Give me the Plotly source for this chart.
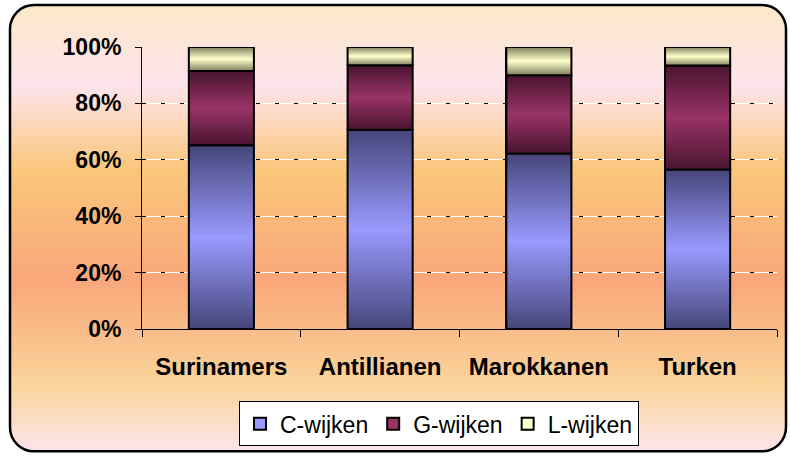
import base64
import plotly.graph_objects as go

categories = ["Surinamers", "Antillianen", "Marokkanen", "Turken"]
series_names = ["C-wijken", "G-wijken", "L-wijken"]
c_wijken = [65.2, 70.7, 62.2, 56.6]
g_wijken = [26.3, 22.8, 27.8, 36.8]
l_wijken = [8.5, 6.5, 10.0, 6.6]
y_ticks = [0, 20, 40, 60, 80, 100]
y_tick_labels = ["0%", "20%", "40%", "60%", "80%", "100%"]

series_values = [c_wijken, g_wijken, l_wijken]
mid_colors = ["#9999FF", "#993366", "#FFFFCC"]
edge_colors = ["#46467A", "#4A1530", "#80805E"]

W, H = 790, 456
L, R, T, B = 142, 13, 47, 126.5
PW, PH = W - L - R, H - T - B
BAR_W = 0.41

FONT = "Liberation Sans, Arial, sans-serif"

fig = go.Figure()

positions = list(range(len(categories)))

for name, vals, mc in zip(series_names, series_values, mid_colors):
    fig.add_trace(go.Bar(
        x=positions, y=vals, name=name, width=BAR_W,
        marker=dict(color=mc, line=dict(color="black", width=1.5)),
        hoverinfo="skip",
    ))

cum = [0.0] * len(categories)
for name, vals, mc, ec in zip(series_names, series_values, mid_colors, edge_colors):
    for i, v in enumerate(vals):
        base = cum[i]
        top = base + v
        x0, x1 = positions[i] - BAR_W / 2, positions[i] + BAR_W / 2
        fig.add_trace(go.Scatter(
            x=[x0, x1, x1, x0, x0], y=[base, base, top, top, base],
            mode="lines", fill="toself",
            fillgradient=dict(type="vertical", start=base, stop=top,
                              colorscale=[[0, ec], [0.5, mc], [1, ec]]),
            line=dict(color="black", width=2),
            showlegend=False, hoverinfo="skip",
        ))
        cum[i] = top

svg = f'''<svg xmlns="http://www.w3.org/2000/svg" width="{W}" height="{H}" viewBox="0 0 {W} {H}" preserveAspectRatio="none">
<defs><linearGradient id="g" x1="0" y1="0" x2="0" y2="1">
<stop offset="0" stop-color="#FBE8C8"/>
<stop offset="0.18" stop-color="#FDE4EC"/>
<stop offset="0.37" stop-color="#FAC67A"/>
<stop offset="0.62" stop-color="#F9A77B"/>
<stop offset="0.85" stop-color="#FAD49A"/>
<stop offset="1" stop-color="#FCE5EB"/>
</linearGradient></defs>
<rect x="0" y="0" width="{W}" height="{H}" fill="white"/>
<rect x="10" y="5" width="776" height="447" rx="24" ry="24" fill="url(#g)" stroke="black" stroke-width="2.5"/>
</svg>'''
src = "data:image/svg+xml;base64," + base64.b64encode(svg.encode()).decode()

fig.add_layout_image(dict(
    source=src, xref="paper", yref="paper",
    x=-L / PW, y=1 + T / PH, sizex=W / PW, sizey=H / PH,
    xanchor="left", yanchor="top", sizing="stretch", layer="below",
))

fig.update_layout(
    width=W, height=H,
    margin=dict(l=L, r=R, t=T, b=B, autoexpand=False),
    paper_bgcolor="white",
    plot_bgcolor="rgba(0,0,0,0)",
    barmode="stack",
    bargap=0,
    showlegend=True,
    legend=dict(
        orientation="h", x=(239 - L) / PW, y=(H - B - 402) / PH,
        xanchor="left", yanchor="top", traceorder="normal",
        bgcolor="white", bordercolor="black", borderwidth=1,
        font=dict(family=FONT, size=23, color="black"),
        itemsizing="constant", itemwidth=30,
    ),
    xaxis=dict(
        range=[-0.5, len(categories) - 0.5],
        tickvals=positions, ticktext=categories,
        ticks="", showgrid=False, zeroline=False,
        showline=True, linecolor="black", linewidth=1,
        tickfont=dict(family=FONT, size=24, color="black", weight="bold"),
        ticklabelstandoff=16, fixedrange=True,
    ),
    xaxis2=dict(
        overlaying="x", anchor="y", side="bottom",
        range=[-0.5, len(categories) - 0.5],
        tickvals=[p - 0.5 for p in positions] + [positions[-1] + 0.5],
        ticks="outside", ticklen=7, tickcolor="black", tickwidth=1,
        showticklabels=False, showgrid=False, zeroline=False, showline=False,
    ),
    yaxis=dict(
        range=[0, 100], tickvals=y_ticks, ticktext=y_tick_labels,
        ticks="outside", ticklen=6, tickcolor="black",
        showline=True, linecolor="black", linewidth=1,
        showgrid=True, gridcolor="white", gridwidth=1, zeroline=False,
        tickfont=dict(family=FONT, size=23, color="black", weight="bold"),
        ticklabelstandoff=9,
    ),
    yaxis2=dict(
        overlaying="y", range=[0, 100], tickvals=y_ticks,
        showgrid=True, gridcolor="black", gridwidth=1, griddash="4px,15px",
        showticklabels=False, ticks="", showline=False, zeroline=False,
    ),
)

fig.add_trace(go.Scatter(x=[None], y=[None], xaxis="x2", yaxis="y2",
                         showlegend=False, hoverinfo="skip"))

fig.write_html("out.html", config={"displayModeBar": False},
               post_script="document.body.style.margin='0px';")
